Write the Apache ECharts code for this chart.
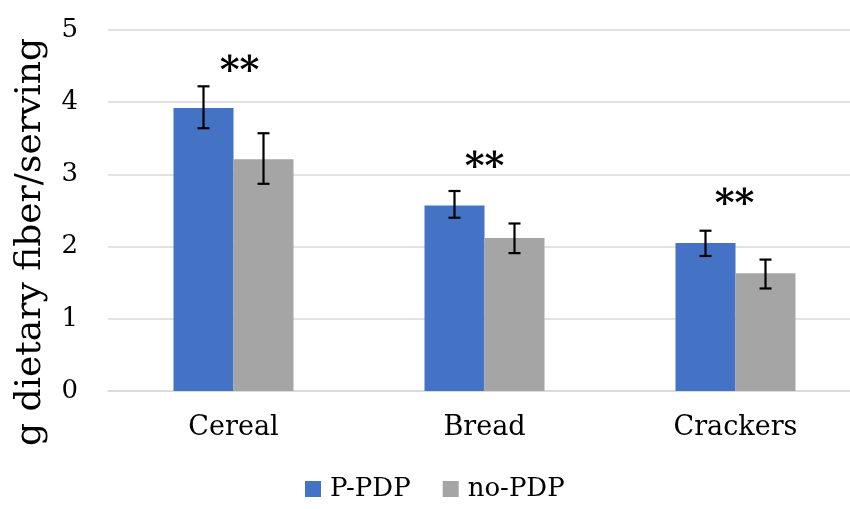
<!DOCTYPE html>
<html>
<head>
<meta charset="utf-8">
<script src="https://cdn.jsdelivr.net/npm/echarts@6/dist/echarts.min.js"></script>
<style>html,body{margin:0;padding:0;background:#fff}#c{width:850px;height:509px}</style>
</head>
<body>
<div id="c"></div>
<script>
const categories = ['Cereal', 'Bread', 'Crackers'];
const seriesNames = ['P-PDP', 'no-PDP'];
const pPdp = [3.92, 2.57, 2.05];
const pPdpLow = [3.64, 2.40, 1.87];
const pPdpHigh = [4.22, 2.77, 2.22];
const noPdp = [3.21, 2.12, 1.63];
const noPdpLow = [2.87, 1.91, 1.42];
const noPdpHigh = [3.57, 2.32, 1.82];
const sigLabels = ['**', '**', '**'];
const sigY = [4.42, 3.08, 2.57];
const yTicks = [0, 1, 2, 3, 4, 5];

const FONT = 'DejaVu Serif';
const TXT = '#000';
const BAR_W = 60;
const STAR_DX = [6, 0, -1];

function errorSeries(low, high, side) {
  return {
    type: 'custom',
    silent: true,
    z: 5,
    data: low.map((l, i) => [i, l, high[i]]),
    renderItem: function (params, api) {
      const i = api.value(0);
      const pLow = api.coord([i, api.value(1)]);
      const pHigh = api.coord([i, api.value(2)]);
      const x = pLow[0] + side * BAR_W / 2;
      const cap = 6;
      const st = { stroke: '#000', lineWidth: 2.2 };
      return {
        type: 'group',
        children: [
          { type: 'line', shape: { x1: x, y1: pLow[1], x2: x, y2: pHigh[1] }, style: st },
          { type: 'line', shape: { x1: x - cap, y1: pLow[1], x2: x + cap, y2: pLow[1] }, style: st },
          { type: 'line', shape: { x1: x - cap, y1: pHigh[1], x2: x + cap, y2: pHigh[1] }, style: st }
        ]
      };
    }
  };
}

const chart = echarts.init(document.getElementById('c'));
chart.setOption({
  animation: false,
  backgroundColor: '#fff',
  grid: { left: 108, width: 753, top: 30, height: 361, containLabel: false, outerBoundsMode: 'none' },
  legend: {
    bottom: 2,
    left: 300,
    itemWidth: 16,
    itemHeight: 16,
    itemGap: 32,
    icon: 'rect',
    textStyle: { fontFamily: FONT, fontSize: 26, color: TXT, padding: [0, 0, 0, 4] },
    data: seriesNames
  },
  xAxis: {
    type: 'category',
    data: categories,
    axisLine: { lineStyle: { color: '#D9D9D9', width: 1.5 } },
    axisTick: { show: false },
    axisLabel: { fontFamily: FONT, fontSize: 27, color: TXT, margin: 23 }
  },
  yAxis: {
    type: 'value',
    min: 0,
    max: 5,
    interval: 1,
    axisLine: { show: false },
    axisTick: { show: false },
    splitLine: { lineStyle: { color: '#D9D9D9', width: 1.5 } },
    axisLabel: {
      fontFamily: FONT, fontSize: 26, color: TXT, margin: 30,
      formatter: v => yTicks.includes(v) ? String(v) : ''
    }
  },
  graphic: [{
    type: 'text',
    x: 31,
    y: 242,
    rotation: Math.PI / 2,
    style: {
      text: 'g dietary fiber/serving',
      fontFamily: FONT,
      fontSize: 36,
      fill: TXT,
      align: 'center',
      verticalAlign: 'middle'
    }
  }],
  series: [
    {
      name: seriesNames[0], type: 'bar', data: pPdp, barWidth: BAR_W, barGap: '0%',
      itemStyle: { color: '#4472C4' }
    },
    {
      name: seriesNames[1], type: 'bar', data: noPdp, barWidth: BAR_W, barGap: '0%',
      itemStyle: { color: '#A5A5A5' }
    },
    errorSeries(pPdpLow, pPdpHigh, -1),
    errorSeries(noPdpLow, noPdpHigh, 1),
    {
      type: 'scatter',
      symbolSize: 0,
      silent: true,
      z: 6,
      data: sigY.map((y, i) => ({ value: [i, y], label: { offset: [STAR_DX[i], 0] } })),
      itemStyle: { opacity: 1 },
      label: {
        show: true,
        position: 'inside',
        formatter: p => sigLabels[p.dataIndex],
        fontFamily: FONT,
        fontSize: 38,
        fontWeight: 'bold',
        color: '#000'
      }
    }
  ]
});
</script>
</body>
</html>
